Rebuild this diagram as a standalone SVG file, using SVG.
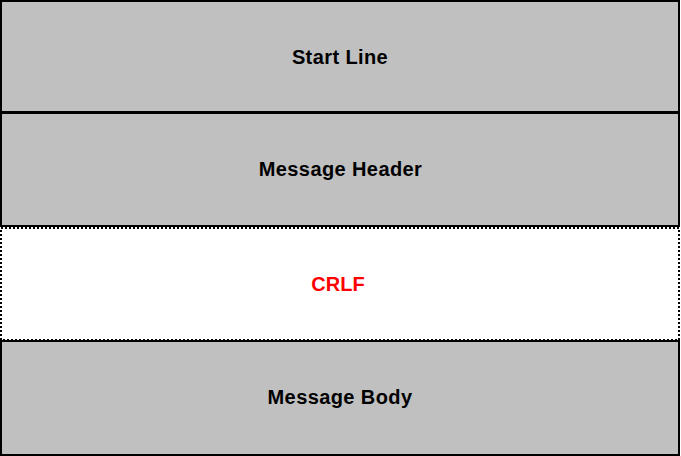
<svg xmlns="http://www.w3.org/2000/svg" width="681" height="456" viewBox="0 0 681 456">
  <style>
    .box { fill: #c0c0c0; stroke: #000; stroke-width: 2; }
    .gap { fill: #fff; stroke: #000; stroke-width: 2; stroke-dasharray: 2 2; }
    .lbl { font-family: "Liberation Sans", Arial, sans-serif; font-size: 20px; font-weight: bold; text-anchor: middle; fill: #000; }
    .red { fill: #ff0000; }
  </style>
  <rect width="681" height="456" fill="#fff"/>
  <g id="start-line">
    <rect class="box" x="1" y="1" width="678" height="111"/>
    <text class="lbl" x="340" y="64" letter-spacing="0.4">Start Line</text>
  </g>
  <g id="message-header">
    <rect class="box" x="1" y="113" width="678" height="113"/>
    <text class="lbl" x="340.5" y="176" letter-spacing="0.4">Message Header</text>
  </g>
  <g id="crlf">
    <rect class="gap" x="1" y="228" width="678" height="112"/>
    <text class="lbl red" x="338" y="291">CRLF</text>
  </g>
  <g id="message-body">
    <rect class="box" x="1" y="341" width="678" height="114"/>
    <text class="lbl" x="340" y="404" letter-spacing="0.4">Message Body</text>
  </g>
  <g id="connectors"/>
</svg>
